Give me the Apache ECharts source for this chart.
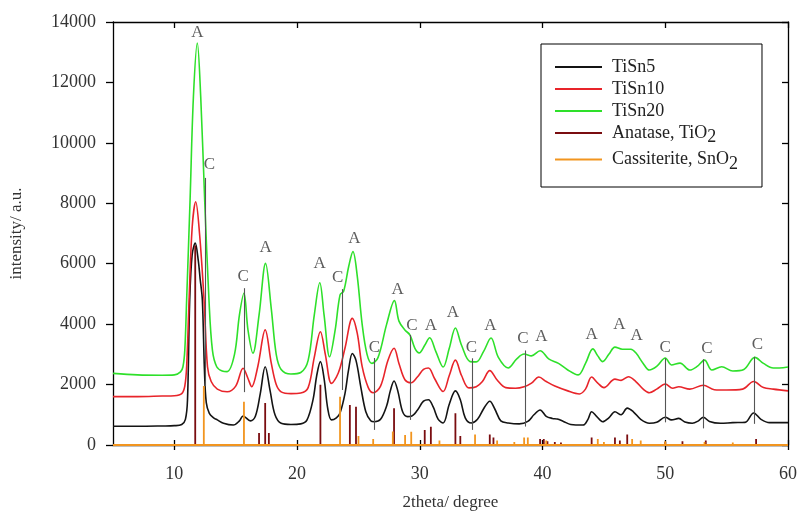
<!DOCTYPE html>
<html>
<head>
<meta charset="utf-8">
<script src="https://cdn.jsdelivr.net/npm/echarts@6/dist/echarts.min.js"></script>
<style>
  html, body { margin: 0; padding: 0; background: #ffffff; }
  #chart { width: 800px; height: 516px; }
</style>
</head>
<body>
<div id="chart"></div>
<script>
// XRD patterns, [2theta (deg), intensity (a.u.)]
const tisn5 = [
  [5, 620], [7, 620], [9, 630], [10, 640], [10.6, 680], [10.9, 850], [11.07, 1490], [11.25, 4800],
  [11.45, 6300], [11.7, 6680], [11.95, 6100], [12.1, 5500], [12.28, 4800], [12.45, 2500], [12.6, 1400],
  [12.85, 1050], [13.2, 900], [13.5, 830], [14.0, 720], [14.8, 660], [15.3, 800], [15.6, 960], [16.2, 800],
  [16.6, 950], [17.0, 1700], [17.4, 2590], [17.8, 1800], [18.2, 1000], [18.7, 720], [19.5, 680], [20.3, 700],
  [20.8, 820], [21.3, 1500], [21.6, 2300], [21.9, 2760], [22.2, 2200], [22.5, 1200], [22.8, 830],
  [23.2, 900], [23.5, 1060], [23.9, 1700], [24.2, 2500], [24.5, 3030], [24.8, 2800], [25.2, 1900],
  [25.6, 1100], [26.0, 800], [26.3, 770], [26.8, 850], [27.3, 1300], [27.6, 1800], [27.9, 2120],
  [28.2, 1800], [28.6, 1100], [29.0, 940], [29.3, 950], [29.8, 1150], [30.3, 1450], [30.7, 1500],
  [31.1, 1250], [31.5, 850], [31.9, 730], [32.4, 1350], [32.9, 1790], [33.3, 1500], [33.7, 900],
  [34.2, 730], [34.7, 850], [35.2, 1200], [35.7, 1450], [36.1, 1200], [36.6, 800], [37.2, 730],
  [38.1, 700], [38.8, 780], [39.3, 1000], [39.8, 1160], [40.3, 950], [40.8, 880], [41.2, 860],
  [41.7, 780], [42.3, 680], [43.3, 660], [43.7, 850], [44.0, 1100], [44.4, 950], [44.9, 770],
  [45.4, 900], [45.9, 1100], [46.4, 1000], [46.9, 1220], [47.4, 1100], [48.0, 850], [48.7, 720],
  [49.3, 750], [50.0, 920], [50.5, 830], [51.1, 880], [51.6, 760], [52.2, 720], [52.7, 800],
  [53.1, 920], [53.6, 780], [54.5, 720], [55.5, 740], [56.5, 750], [57.2, 1060], [57.8, 850],
  [58.5, 740], [59.3, 740], [60, 740]
];
const tisn10 = [
  [5, 1600], [7, 1600], [9, 1620], [10, 1630], [10.6, 1700], [10.85, 1950], [11.0, 2590], [11.2, 4800],
  [11.45, 7200], [11.74, 8050], [12.05, 7000], [12.42, 4800], [12.7, 2590], [13.0, 2100], [13.5, 1850],
  [14.3, 1760], [15.0, 1950], [15.6, 2540], [16.0, 2200], [16.3, 1930], [16.8, 2600], [17.4, 3810],
  [17.9, 2700], [18.3, 2000], [18.7, 1760], [19.5, 1700], [20.3, 1720], [20.9, 1900], [21.4, 2900],
  [21.9, 3750], [22.3, 3000], [22.8, 2040], [23.2, 2250], [23.5, 2550], [23.9, 3200], [24.5, 4190],
  [24.9, 3700], [25.3, 2600], [25.8, 1900], [26.2, 1730], [26.8, 1950], [27.4, 2800], [27.9, 3200],
  [28.3, 2700], [28.8, 2150], [29.3, 2060], [29.8, 2250], [30.3, 2500], [30.7, 2550], [31.2, 2200],
  [31.9, 1770], [32.4, 2300], [32.9, 2810], [33.4, 2300], [34.0, 1890], [34.6, 1930], [35.1, 2100],
  [35.7, 2460], [36.3, 2150], [37.0, 1900], [37.8, 1880], [38.5, 1930], [39.1, 2050], [39.7, 2250],
  [40.3, 2100], [41.0, 1950], [42.0, 1800], [43.0, 1690], [43.5, 1850], [44.0, 2250], [44.5, 2050],
  [45.0, 1900], [45.9, 2180], [46.4, 2140], [47.0, 2260], [47.6, 2100], [48.2, 1850], [48.7, 1730],
  [49.3, 1850], [50.0, 2020], [50.6, 1880], [51.1, 1930], [52.0, 1850], [53.1, 1980], [54.0, 1830],
  [55.0, 1820], [56.3, 1850], [57.2, 2100], [58.0, 1900], [58.8, 1850], [60, 1790]
];
const tisn20 = [
  [5, 2370], [7, 2320], [9, 2310], [10, 2320], [10.5, 2420], [10.7, 2590], [10.85, 3140], [11.0, 4800],
  [11.28, 8110], [11.55, 11500], [11.87, 13300], [12.15, 11500], [12.47, 8110], [12.82, 4800],
  [13.1, 3140], [13.45, 2590], [13.9, 2450], [14.3, 2430], [14.9, 3000], [15.3, 4300], [15.67, 5020],
  [16.0, 3800], [16.4, 3040], [16.9, 4300], [17.43, 6010], [17.9, 4500], [18.3, 3000], [18.7, 2500],
  [19.5, 2350], [20.3, 2400], [20.9, 2800], [21.4, 4300], [21.85, 5370], [22.2, 4300], [22.65, 2920],
  [23.1, 3800], [23.5, 4970], [23.8, 5100], [24.2, 5900], [24.55, 6400], [24.9, 5600], [25.3, 4000],
  [25.7, 3000], [26.1, 2700], [26.6, 2900], [27.3, 4000], [27.93, 4780], [28.3, 4100], [28.8, 3800],
  [29.2, 3640], [29.6, 3200], [29.95, 3050], [30.4, 3300], [30.8, 3550], [31.3, 3100], [31.9, 2580],
  [32.4, 3200], [32.9, 3870], [33.4, 3300], [34.1, 2760], [34.6, 2750], [35.2, 3100], [35.8, 3540],
  [36.4, 2900], [37.2, 2550], [37.9, 2850], [38.5, 3010], [39.1, 2950], [39.8, 3120], [40.5, 2850],
  [41.3, 2700], [42.0, 2500], [42.9, 2320], [43.5, 2700], [44.1, 3180], [44.5, 2950], [44.9, 2760],
  [45.4, 3000], [45.9, 3240], [46.5, 3170], [47.2, 3170], [47.6, 3050], [48.2, 2700], [48.7, 2480],
  [49.3, 2600], [50.0, 2880], [50.5, 2650], [51.2, 2710], [52.0, 2480], [52.6, 2600], [53.2, 2810],
  [53.8, 2480], [54.6, 2590], [55.5, 2450], [56.4, 2500], [57.3, 2900], [58.0, 2700], [58.8, 2550],
  [59.3, 2550], [60, 2580]
];

// Reference reflections: positions (2theta) and intensities
const anatasePos = [11.7, 16.9, 17.4, 17.7, 21.9, 24.3, 24.8, 27.9, 30.4, 30.9, 32.9, 33.3, 35.7, 36.0,
  39.8, 40.1, 40.4, 41.0, 41.5, 44.0, 45.9, 46.3, 46.9, 50.0, 51.4, 53.3, 57.4];
const anataseInt = [6600, 400, 1390, 400, 1990, 1320, 1270, 1220, 500, 600, 1050, 300, 350, 250,
  200, 200, 120, 100, 80, 250, 250, 150, 350, 100, 120, 150, 200];
const cassPos = [12.4, 15.67, 23.5, 25.0, 26.2, 27.8, 28.8, 29.3, 31.6, 34.5, 36.3, 37.7, 38.5, 38.8,
  40.3, 44.5, 45.0, 47.3, 48.0, 50.0, 53.2, 55.5, 57.5];
const cassInt = [1950, 1430, 1600, 300, 200, 450, 330, 440, 150, 350, 150, 100, 250, 250,
  150, 200, 100, 200, 150, 120, 100, 80, 60];

// Phase markers: A = anatase, C = cassiterite
const peakTags = [
  [11.87, 13640, 'A'], [12.85, 9270, 'C'], [15.6, 5560, 'C'], [17.43, 6550, 'A'], [21.84, 6020, 'A'],
  [23.3, 5530, 'C'], [24.66, 6850, 'A'], [26.3, 3210, 'C'], [28.2, 5130, 'A'], [29.35, 3940, 'C'],
  [30.9, 3970, 'A'], [32.7, 4370, 'A'], [34.2, 3240, 'C'], [35.76, 3970, 'A'], [38.4, 3510, 'C'],
  [39.9, 3575, 'A'], [44.0, 3670, 'A'], [46.27, 4000, 'A'], [47.67, 3610, 'A'], [50.0, 3240, 'C'],
  [53.4, 3180, 'C'], [57.5, 3340, 'C']
];
// Cassiterite guide lines: [2theta, lower, upper]
const cassGuides = [
  [12.5, 1950, 8840], [15.67, 1750, 5190], [23.66, 1820, 5160], [26.3, 500, 2880], [29.2, 830, 3640],
  [34.27, 500, 2870], [38.55, 610, 3130], [50.0, 750, 2870], [53.1, 550, 2840], [57.23, 700, 2920]
];

const xTicks = [10, 20, 30, 40, 50, 60];
const seriesNames = ['TiSn5', 'TiSn10', 'TiSn20', 'Anatase, TiO2', 'Cassiterite, SnO2'];

function sticks(pos, inten) {
  const pts = [[5, 0]];
  pos.forEach((p, i) => { pts.push([p, 0], [p, inten[i]], [p, 0]); });
  pts.push([60, 0]);
  return pts;
}

const serif = 'Liberation Serif';
const chart = echarts.init(document.getElementById('chart'), null, { renderer: 'canvas' });

const baseX = { type: 'value', min: 5, max: 60, splitLine: { show: false } };

chart.setOption({
  animation: false,
  backgroundColor: '#ffffff',
  grid: { left: 112, right: 11, top: 22, bottom: 71, containLabel: false },
  legend: {
    orient: 'vertical',
    left: 541,
    top: 44,
    data: seriesNames,
    icon: 'rect',
    itemWidth: 47,
    itemHeight: 2,
    itemGap: 4,
    padding: [14, 24, 14, 14],
    borderColor: '#000',
    borderWidth: 1,
    selectedMode: false,
    formatter: name => name.replace(/O2$/, 'O{s|2}'),
    textStyle: {
      fontFamily: serif, fontSize: 18, color: '#222', padding: [0, 0, 0, 5],
      rich: { s: { fontFamily: serif, fontSize: 18, color: '#222', padding: [9, 0, 0, 0] } }
    }
  },
  xAxis: [
    Object.assign({}, baseX, {
      position: 'bottom',
      axisLine: { show: true, lineStyle: { color: '#000', width: 1.3 } },
      axisTick: { show: true, inside: false, length: 5, customValues: xTicks, lineStyle: { color: '#000', width: 1.3 } },
      axisLabel: { show: true, customValues: xTicks, margin: 20, fontFamily: serif, fontSize: 18, color: '#333' },
      name: '2theta/ degree', nameLocation: 'middle', nameGap: 49,
      nameTextStyle: { fontFamily: serif, fontSize: 17, color: '#333' }
    }),
    Object.assign({}, baseX, {
      position: 'bottom',
      axisLine: { show: false },
      axisTick: { show: true, inside: true, length: 5, customValues: xTicks, lineStyle: { color: '#000', width: 1.3 } },
      axisLabel: { show: false }
    }),
    Object.assign({}, baseX, {
      position: 'top',
      axisLine: { show: true, lineStyle: { color: '#000', width: 1.3 } },
      axisTick: { show: true, inside: true, length: 6, customValues: xTicks, lineStyle: { color: '#000', width: 1.3 } },
      axisLabel: { show: false }
    })
  ],
  yAxis: [
    {
      type: 'value', min: 0, max: 14000, interval: 2000, position: 'left',
      splitLine: { show: false },
      axisLine: { show: true, lineStyle: { color: '#000', width: 1.3 } },
      axisTick: { show: true, inside: false, length: 7, lineStyle: { color: '#000', width: 1.3 } },
      axisLabel: { margin: 17, fontFamily: serif, fontSize: 18, color: '#333', formatter: v => String(v) },
      name: 'intensity/ a.u.', nameLocation: 'middle', nameGap: 88, nameRotate: 90,
      nameTextStyle: { fontFamily: serif, fontSize: 17, color: '#333' }
    },
    {
      type: 'value', min: 0, max: 14000, interval: 2000, position: 'right',
      splitLine: { show: false },
      axisLine: { show: true, lineStyle: { color: '#000', width: 1.3 } },
      axisTick: { show: true, inside: true, length: 6, lineStyle: { color: '#000', width: 1.3 } },
      axisLabel: { show: false }
    }
  ],
  series: [
    { name: 'TiSn5', type: 'line', data: tisn5, smooth: 0.35, showSymbol: false, symbol: 'none',
      lineStyle: { color: '#141414', width: 1.6 }, itemStyle: { color: '#141414' }, z: 3 },
    { name: 'TiSn10', type: 'line', data: tisn10, smooth: 0.35, showSymbol: false, symbol: 'none',
      lineStyle: { color: '#e8242a', width: 1.6 }, itemStyle: { color: '#e8242a' }, z: 3 },
    { name: 'TiSn20', type: 'line', data: tisn20, smooth: 0.35, showSymbol: false, symbol: 'none',
      lineStyle: { color: '#2ee02a', width: 1.6 }, itemStyle: { color: '#2ee02a' }, z: 3 },
    { name: 'Anatase, TiO2', type: 'line', data: sticks(anatasePos, anataseInt), showSymbol: false, symbol: 'none',
      lineStyle: { color: '#7a0d10', width: 1.8 }, itemStyle: { color: '#7a0d10' }, z: 4 },
    { name: 'Cassiterite, SnO2', type: 'line', data: sticks(cassPos, cassInt), showSymbol: false, symbol: 'none',
      lineStyle: { color: '#f2951f', width: 1.8 }, itemStyle: { color: '#f2951f' }, z: 5,
      markLine: {
        silent: true, symbol: ['none', 'none'], animation: false,
        label: { show: false },
        lineStyle: { color: '#555', width: 1.1, type: 'solid' },
        data: cassGuides.map(g => [{ coord: [g[0], g[1]] }, { coord: [g[0], g[2]] }])
      }
    },
    { name: 'tags', type: 'scatter', data: peakTags, symbolSize: 0, silent: true, z: 6,
      label: { show: true, position: 'inside', formatter: p => p.data[2],
        fontFamily: serif, fontSize: 17, color: '#333' } }
  ]
});
</script>
</body>
</html>
